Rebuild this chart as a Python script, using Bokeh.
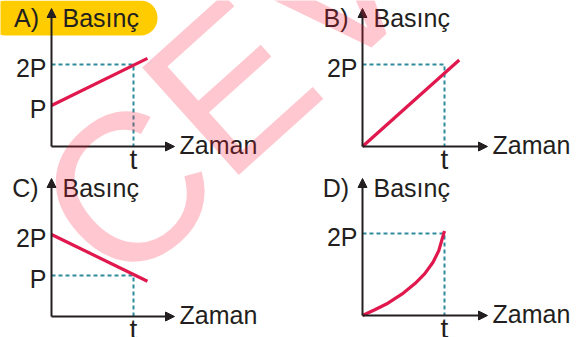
from bokeh.plotting import figure
from bokeh.models import Range1d, Label, Arrow, NormalHead, BoxAnnotation
from bokeh.embed import file_html
from bokeh.resources import INLINE

# ---------------- data ----------------
panel_names = ["A)", "B)", "C)", "D)"]
y_title = "Basınç"
x_title = "Zaman"
time_tick_label = "t"
pressure_tick_labels = {1: "P", 2: "2P"}
time_mark = 1.0

time_A = [0.0, 1.17]
pressure_A = [1.0, 2.15]
time_B = [0.0, 1.18]
pressure_B = [0.0, 2.11]
time_C = [0.0, 1.17]
pressure_C = [2.0, 0.86]
time_D = [0.0, 0.15, 0.31, 0.48, 0.64, 0.76, 0.86, 0.93, 1.0]
pressure_D = [0.0, 0.14, 0.30, 0.52, 0.78, 1.02, 1.30, 1.58, 2.06]

series_time = [time_A, time_B, time_C, time_D]
series_pressure = [pressure_A, pressure_B, pressure_C, pressure_D]
guide_level = [2, 2, 1, 2]
y_ticks = [[1, 2], [2], [1, 2], [2]]
watermark_letters = ["C", "E", "V"]

# ---------------- layout / style ----------------
FONT = "Liberation Sans"
INK = "#231f20"
RED = "#e0184d"
TEAL = "#2f8b9c"
YELLOW = "#ffcc00"
WM = "#ff1a3c"

W, H = 577, 337
PX_T = 82.0
PX_P = 41.0
AXIS_X = [51, 362, 51, 362]
AXIS_Y = [146, 146, 316, 315]
ARROW_X = [174, 487, 174, 487]
ARROW_Y = [8, 8, 178, 178]
NAME_X = [26, 335.5, 25, 335.5]
TITLE_MID = [17.5, 17.5, 187.5, 187.5]
WM_POS = [(70, 240), (177, 132), (278, 33)]


def wx(i, X):
    return (X - AXIS_X[i]) / PX_T


def wy(i, Y):
    return (AXIS_Y[i] - Y) / PX_P


p = figure(width=W, height=H, x_range=Range1d(0, W), y_range=Range1d(H, 0),
           output_backend="svg", toolbar_location=None,
           x_axis_location=None, y_axis_location=None,
           min_border_left=0, min_border_right=0, min_border_top=0, min_border_bottom=0)
p.outline_line_color = None
p.grid.visible = False
p.background_fill_color = "white"
p.border_fill_color = "white"

# highlighted answer label
p.add_layout(BoxAnnotation(left=-12, right=157, top=0, bottom=35,
                           fill_color=YELLOW, fill_alpha=1, line_color=None, level="underlay",
                           border_radius=17))

for i in range(4):
    xn, yn = "time%d" % i, "pressure%d" % i
    p.extra_x_ranges[xn] = Range1d(wx(i, 0), wx(i, W))
    p.extra_y_ranges[yn] = Range1d(wy(i, H), wy(i, 0))
    rk = dict(x_range_name=xn, y_range_name=yn)

    def add_label(x, y, text, size="25px", align="left"):
        p.add_layout(Label(x=x, y=y, text=text, text_font=FONT, text_font_size=size,
                           text_color=INK, text_align=align, text_baseline="middle", **rk))

    # guide lines to t and the marked pressure
    lvl = guide_level[i]
    p.line([0, time_mark, time_mark], [lvl, lvl, 0], line_color=TEAL, line_width=2,
           line_dash="4 3", **rk)

    # pressure curve
    p.line(series_time[i], series_pressure[i], line_color=RED, line_width=3.2, **rk)

    # axes with arrow heads
    p.add_layout(Arrow(end=NormalHead(size=9, fill_color=INK, line_color=INK, line_width=1),
                       x_start=0, y_start=0, x_end=0, y_end=wy(i, ARROW_Y[i]),
                       line_color=INK, line_width=2, **rk))
    p.add_layout(Arrow(end=NormalHead(size=9, fill_color=INK, line_color=INK, line_width=1),
                       x_start=0, y_start=0, x_end=wx(i, ARROW_X[i]), y_end=0,
                       line_color=INK, line_width=2, **rk))

    # tick labels
    for k in y_ticks[i]:
        add_label(wx(i, AXIS_X[i] - 5), k - 3 / PX_P, pressure_tick_labels[k], align="right")
    add_label(time_mark, wy(i, AXIS_Y[i] + 13), time_tick_label, size="28px", align="center")

    # titles
    add_label(wx(i, NAME_X[i]), wy(i, TITLE_MID[i]), panel_names[i], align="center")
    add_label(wx(i, AXIS_X[i] + 11), wy(i, TITLE_MID[i]), y_title)
    add_label(wx(i, ARROW_X[i] + 5), wy(i, AXIS_Y[i] - 2), x_title)

# watermark over everything
for letter, (X, Y) in zip(watermark_letters, WM_POS):
    p.add_layout(Label(x=X, y=Y, text=letter, angle=0.733,
                       text_font=FONT, text_font_size="210px", text_color=WM,
                       text_alpha=0.24, text_align="left", text_baseline="middle",
                       level="overlay"))

open("out.html", "w").write(file_html(p, INLINE))
